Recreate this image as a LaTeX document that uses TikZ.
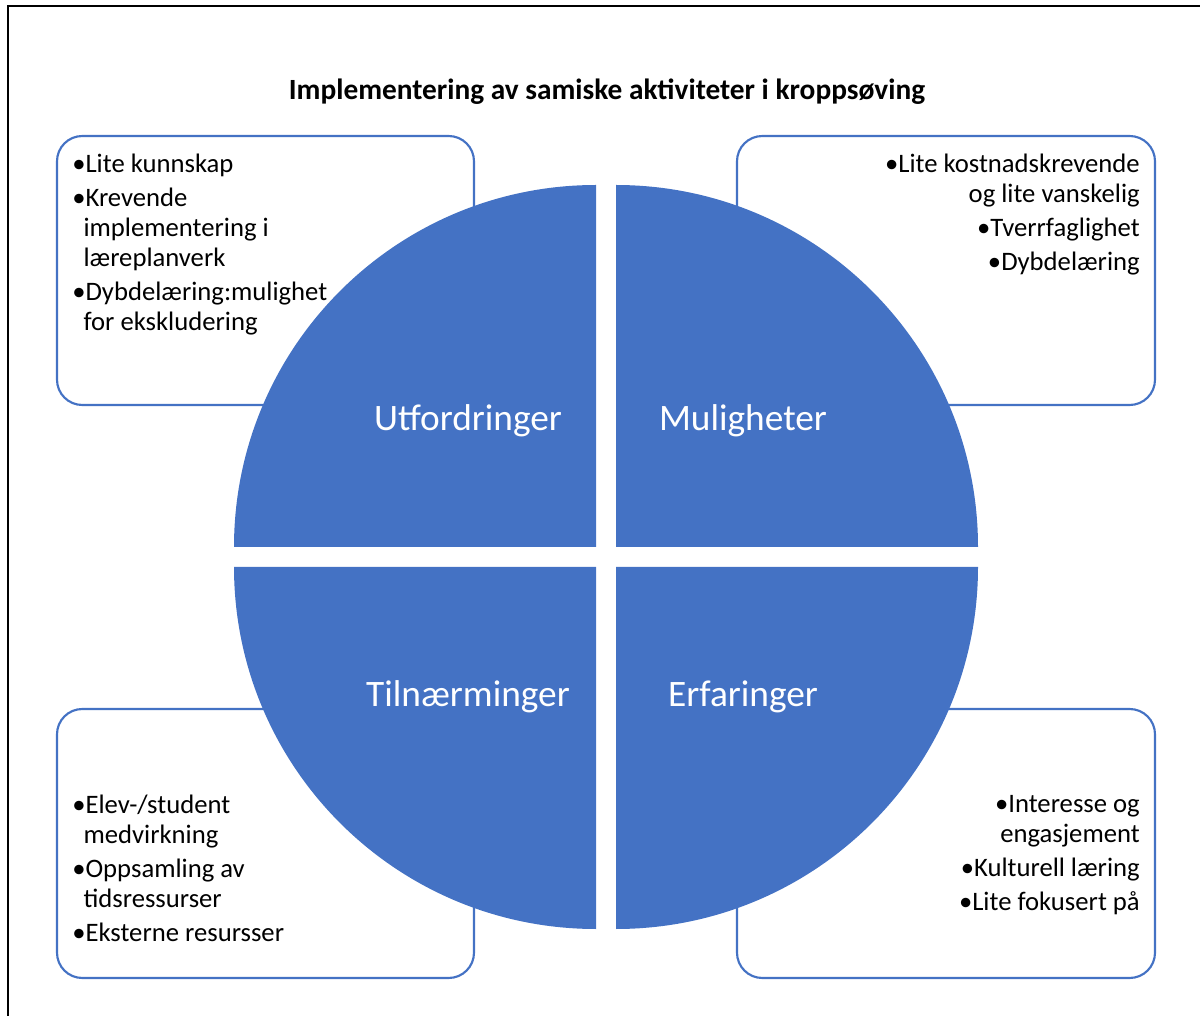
\documentclass[tikz,border=0pt]{standalone}
\usepackage{fontspec}
\setmainfont{Carlito}
\definecolor{qblue}{HTML}{4472C4}
\tikzset{
  qpart/.style={fill=qblue},
  sidebox/.style={draw=qblue, line width=1.6pt, rounded corners=19pt, fill=white},
  bodytext/.style={inner sep=0pt, font=\fontsize{20}{22.5}\selectfont, text=black},
  qlabel/.style={inner sep=0pt, font=\fontsize{28}{32}\selectfont, text=white},
  titletext/.style={inner sep=0pt, font=\fontsize{22}{26}\selectfont\bfseries}
}
\newcommand{\bul}{\textbullet}
\newcommand{\ind}{\hphantom{\textbullet}\hspace{-1.5pt}}
\begin{document}
\begin{tikzpicture}[x=0.75pt,y=0.75pt]
\useasboundingbox (0,0) rectangle (1200,1015);
\begin{scope}
\clip (0,0) rectangle (1200,1015);
\draw[line width=1.5pt, black] (8,-20) -- (8,1009) -- (1230,1009);
\end{scope}
% side boxes
\draw[sidebox] (57,610) rectangle (474,879);
\draw[sidebox] (737,610) rectangle (1155,879);
\draw[sidebox] (57,37) rectangle (474,306);
\draw[sidebox] (737,37) rectangle (1155,306);
% quadrants
\fill[qpart] (596,468) -- ++(-362,0) arc[start angle=180,end angle=90,radius=362] -- cycle;
\fill[qpart] (616,468) -- ++(0,362) arc[start angle=90,end angle=0,radius=362] -- cycle;
\fill[qpart] (596,448) -- ++(-362,0) arc[start angle=180,end angle=270,radius=362] -- cycle;
\fill[qpart] (616,448) -- ++(362,0) arc[start angle=0,end angle=-90,radius=362] -- cycle;
% title
\node[titletext] (title) at (607,923) {Implementering av samiske aktiviteter i kroppsøving};
% quadrant labels
\node[qlabel] (q1) at (468,594) {Utfordringer};
\node[qlabel] (q2) at (743,594) {Muligheter};
\node[qlabel] (q3) at (468,318) {Tilnærminger};
\node[qlabel] (q4) at (743,318) {Erfaringer};
% box texts
\node[bodytext, anchor=north west, align=left] (t1) at (72,861)
  {\bul Lite kunnskap\\[3pt]
   \bul Krevende\\
   \ind implementering i\\
   \ind læreplanverk\\[3pt]
   \bul Dybdelæring:mulighet\\
   \ind for ekskludering};
\node[bodytext, anchor=north east, align=right] (t2) at (1140,861)
  {\bul Lite kostnadskrevende\\
   og lite vanskelig\\[3pt]
   \bul Tverrfaglighet\\[3pt]
   \bul Dybdelæring};
\node[bodytext, anchor=north west, align=left] (t3) at (72,220)
  {\bul Elev-/student\\
   \ind medvirkning\\[3pt]
   \bul Oppsamling av\\
   \ind tidsressurser\\[3pt]
   \bul Eksterne resursser};
\node[bodytext, anchor=north east, align=right] (t4) at (1140,220)
  {\bul Interesse og\\
   engasjement\\[3pt]
   \bul Kulturell læring\\[3pt]
   \bul Lite fokusert på};
\end{tikzpicture}
\end{document}
